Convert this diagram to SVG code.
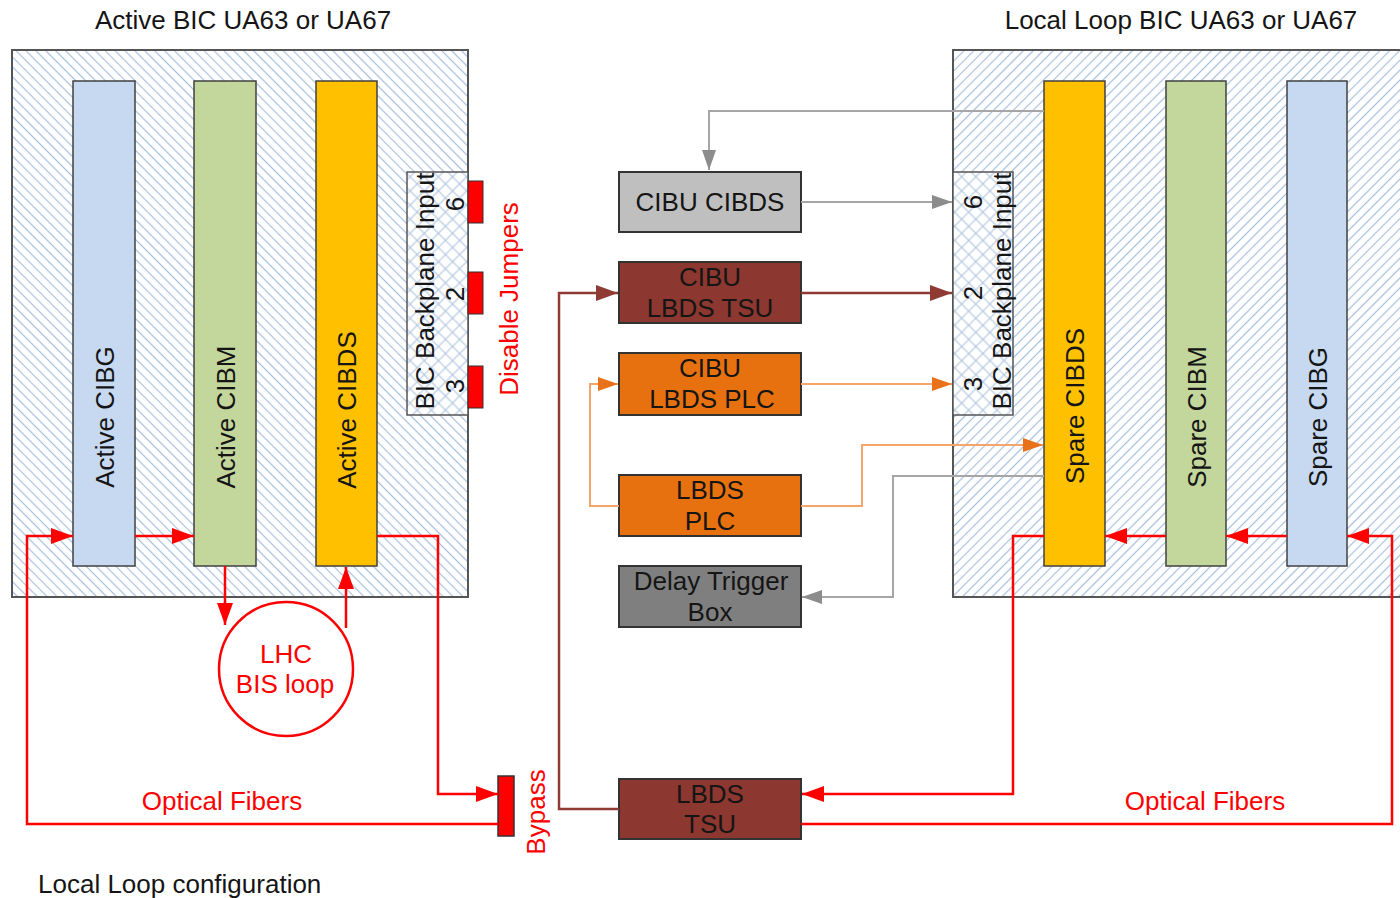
<svg xmlns="http://www.w3.org/2000/svg" width="1400" height="898" viewBox="0 0 1400 898">
<style>
.t{font-family:"Liberation Sans",Arial,sans-serif;font-size:26px;fill:#151515}
.c{text-anchor:middle}
.r{fill:#ff0000}
.bar{stroke:#404040;stroke-width:1.5}
.box{stroke:#333;stroke-width:2}
.frame{stroke:#555;stroke-width:2}
.lr{fill:none;stroke:#ff0000;stroke-width:2.5}
.lg{fill:none;stroke:#a6a6a6;stroke-width:2}
.ld{fill:none;stroke:#8f3b34;stroke-width:2.5}
.lo{fill:none;stroke:#f5a56a;stroke-width:2}
</style>
<defs>
<pattern id="hatchL" patternUnits="userSpaceOnUse" width="7" height="7" patternTransform="rotate(-45)"><rect width="7" height="7" fill="#fff"/><line x1="3.5" y1="0" x2="3.5" y2="7" stroke="#a8c0de" stroke-width="1.2"/></pattern>
<pattern id="hatchR" patternUnits="userSpaceOnUse" width="7" height="7" patternTransform="rotate(45)"><rect width="7" height="7" fill="#fff"/><line x1="3.5" y1="0" x2="3.5" y2="7" stroke="#a8c0de" stroke-width="1.2"/></pattern>
<pattern id="cross" patternUnits="userSpaceOnUse" width="10" height="10" patternTransform="rotate(45)"><rect width="10" height="10" fill="#fff"/><line x1="5" y1="0" x2="5" y2="10" stroke="#a9c0dc" stroke-width="1"/><line x1="0" y1="5" x2="10" y2="5" stroke="#a9c0dc" stroke-width="1"/></pattern>
<marker id="aR" markerUnits="userSpaceOnUse" markerWidth="24" markerHeight="18" refX="22" refY="8" orient="auto"><path d="M0,0 L22,8 L0,16 z" fill="#ff0000"/></marker>
<marker id="aG" markerUnits="userSpaceOnUse" markerWidth="22" markerHeight="16" refX="20" refY="7" orient="auto"><path d="M0,0 L20,7 L0,14 z" fill="#8c8c8c"/></marker>
<marker id="aD" markerUnits="userSpaceOnUse" markerWidth="24" markerHeight="18" refX="22" refY="8" orient="auto"><path d="M0,0 L22,8 L0,16 z" fill="#8f3b34"/></marker>
<marker id="aO" markerUnits="userSpaceOnUse" markerWidth="22" markerHeight="16" refX="20" refY="7" orient="auto"><path d="M0,0 L20,7 L0,14 z" fill="#e8711a"/></marker>
</defs>
<rect width="1400" height="898" fill="#fff"/>

<g id="active-bic">
<rect x="12" y="50" width="456" height="547" fill="url(#hatchL)" class="frame"/>
<text class="t c" x="243" y="29">Active BIC UA63 or UA67</text>
</g>
<g id="local-loop-bic">
<rect x="953" y="50" width="460" height="547" fill="url(#hatchR)" class="frame"/>
<text class="t c" x="1181" y="29">Local Loop BIC UA63 or UA67</text>
</g>

<g id="active-cibg"><rect x="73" y="81" width="62" height="485" fill="#c6d9f1" class="bar"/><text class="t c" transform="translate(114,417) rotate(-90)">Active CIBG</text></g>
<g id="active-cibm"><rect x="194" y="81" width="62" height="485" fill="#c3d69b" class="bar"/><text class="t c" transform="translate(235,417) rotate(-90)">Active CIBM</text></g>
<g id="active-cibds"><rect x="316" y="81" width="61" height="485" fill="#ffc000" class="bar"/><text class="t c" transform="translate(356,410) rotate(-90)">Active CIBDS</text></g>

<g id="spare-cibds"><rect x="1044" y="81" width="61" height="485" fill="#ffc000" class="bar"/><text class="t c" transform="translate(1084,406) rotate(-90)">Spare CIBDS</text></g>
<g id="spare-cibm"><rect x="1166" y="81" width="60" height="485" fill="#c3d69b" class="bar"/><text class="t c" transform="translate(1206,417) rotate(-90)">Spare CIBM</text></g>
<g id="spare-cibg"><rect x="1287" y="81" width="60" height="485" fill="#c6d9f1" class="bar"/><text class="t c" transform="translate(1327,417) rotate(-90)">Spare CIBG</text></g>

<g id="backplane-left">
<rect x="407" y="172" width="61" height="243" fill="url(#cross)" stroke="#555" stroke-width="1.5"/>
<text class="t c" transform="translate(434,291) rotate(-90)">BIC Backplane Input</text>
<text class="t c" transform="translate(464,204) rotate(-90)">6</text>
<text class="t c" transform="translate(464,294) rotate(-90)">2</text>
<text class="t c" transform="translate(464,386) rotate(-90)">3</text>
</g>
<g id="disable-jumpers">
<rect x="468" y="181" width="15" height="42" fill="#ff0000" stroke="#333" stroke-width="1"/>
<rect x="468" y="272" width="15" height="42" fill="#ff0000" stroke="#333" stroke-width="1"/>
<rect x="468" y="366" width="15" height="42" fill="#ff0000" stroke="#333" stroke-width="1"/>
<text class="t c r" transform="translate(518,299) rotate(-90)">Disable Jumpers</text>
</g>
<g id="backplane-right">
<rect x="953" y="172" width="60" height="243" fill="url(#cross)" stroke="#555" stroke-width="1.5"/>
<text class="t c" transform="translate(982,202) rotate(-90)">6</text>
<text class="t c" transform="translate(982,293) rotate(-90)">2</text>
<text class="t c" transform="translate(982,384) rotate(-90)">3</text>
<text class="t c" transform="translate(1011,291) rotate(-90)">BIC Backplane Input</text>
</g>

<g id="cibu-cibds"><rect x="619" y="172" width="182" height="60" fill="#bfbfbf" class="box"/><text class="t c" x="710" y="211">CIBU CIBDS</text></g>
<g id="cibu-lbds-tsu"><rect x="619" y="262" width="182" height="61" fill="#8c372f" class="box"/><text class="t c" x="710" y="286">CIBU</text><text class="t c" x="710" y="317">LBDS TSU</text></g>
<g id="cibu-lbds-plc"><rect x="619" y="353" width="182" height="62" fill="#e8710f" class="box"/><text class="t c" x="710" y="377">CIBU</text><text class="t c" x="712" y="408">LBDS PLC</text></g>
<g id="lbds-plc"><rect x="619" y="475" width="182" height="61" fill="#e8710f" class="box"/><text class="t c" x="710" y="499">LBDS</text><text class="t c" x="710" y="530">PLC</text></g>
<g id="delay-trigger-box"><rect x="619" y="566" width="182" height="61" fill="#7f7f7f" class="box"/><text class="t c" x="711" y="590">Delay Trigger</text><text class="t c" x="710" y="621">Box</text></g>
<g id="lbds-tsu"><rect x="619" y="779" width="182" height="60" fill="#8c372f" class="box"/><text class="t c" x="710" y="803">LBDS</text><text class="t c" x="710" y="833">TSU</text></g>

<g id="lhc-bis-loop"><circle cx="286" cy="669" r="67" fill="#fff" stroke="#ff0000" stroke-width="2.5"/><text class="t c r" x="286" y="663">LHC</text><text class="t c r" x="285" y="693">BIS loop</text></g>
<g id="bypass"><rect x="498" y="776" width="16" height="60" fill="#ff0000" stroke="#333" stroke-width="1.5"/><text class="t c r" transform="translate(545,812) rotate(-90)">Bypass</text></g>

<g id="connectors">
<path class="lr" d="M498,824 H27 V536 H73" marker-end="url(#aR)"/>
<path class="lr" d="M135,536 H194" marker-end="url(#aR)"/>
<path class="lr" d="M225,566 V625" marker-end="url(#aR)"/>
<path class="lr" d="M346,628 V567" marker-end="url(#aR)"/>
<path class="lr" d="M377,536 H438 V794 H498" marker-end="url(#aR)"/>
<path class="lr" d="M801,824 H1392 V536 H1347" marker-end="url(#aR)"/>
<path class="lr" d="M1287,536 H1226" marker-end="url(#aR)"/>
<path class="lr" d="M1166,536 H1105" marker-end="url(#aR)"/>
<path class="lr" d="M1044,536 H1013 V794 H802" marker-end="url(#aR)"/>
<path class="lg" d="M1044,111 H709 V170" marker-end="url(#aG)"/>
<path class="lg" d="M801,202 H952" marker-end="url(#aG)"/>
<path class="lg" d="M1044,476 H893 V597 H802" marker-end="url(#aG)"/>
<path class="ld" d="M801,293 H952" marker-end="url(#aD)"/>
<path class="ld" d="M619,809 H559 V293 H618" marker-end="url(#aD)"/>
<path class="lo" d="M801,384 H952" marker-end="url(#aO)"/>
<path class="lo" d="M619,506 H590 V384 H618" marker-end="url(#aO)"/>
<path class="lo" d="M801,506 H862 V445 H1043" marker-end="url(#aO)"/>
</g>

<text class="t c r" x="222" y="810">Optical Fibers</text>
<text class="t c r" x="1205" y="810">Optical Fibers</text>
<text class="t" x="38" y="893">Local Loop configuration</text>
</svg>
